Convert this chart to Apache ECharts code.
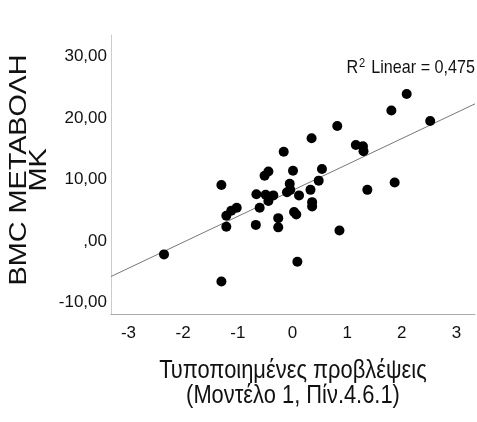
<!DOCTYPE html>
<html><head><meta charset="utf-8">
<script src="https://cdn.jsdelivr.net/npm/echarts@6/dist/echarts.min.js"></script>
<style>html,body{margin:0;padding:0;background:#fff}#c{width:477px;height:422px}</style>
</head><body><div id="c"></div>
<script>
// Standardized predictions (x) and BMC change (y)
const predX = [-2.35,-1.30,-1.30,-1.21,-1.21,-1.12,-1.02,-0.66,-0.67,-0.60,-0.51,-0.44,-0.49,-0.44,-0.35,-0.26,-0.26,-0.16,-0.10,-0.05,0.01,-0.04,0.03,0.07,0.12,0.09,0.33,0.35,0.36,0.36,0.48,0.54,0.82,0.86,1.16,1.29,1.30,1.37,1.81,1.87,2.09,2.52];
const bmcY  = [-2.2,-6.6,9.1,4.1,2.3,4.9,5.4,7.6,2.6,5.4,10.6,11.3,7.5,6.5,7.4,3.7,2.2,14.5,7.9,9.3,11.4,8.3,4.7,4.3,7.4,-3.4,8.3,16.7,5.6,6.3,9.8,11.7,18.7,1.7,15.6,15.4,14.6,8.3,21.2,9.5,23.9,19.5];
const fitX = [-3.32, 3.34];
const fitY = [-5.8, 22.3];
const xTicks = [-3,-2,-1,0,1,2,3];
const yTicks = [-10,0,10,20,30];
const r2Text = '0,475';

const font = "'Liberation Sans', Arial, sans-serif";
const chart = echarts.init(document.getElementById('c'), null, {renderer:'canvas'});
const pts = predX.map((x,i)=>[x,bmcY[i]]);
chart.setOption({
  animation:false,
  grid:{left:111,right:2,top:35,bottom:108,containLabel:false},
  xAxis:{type:'value',min:-3.32,max:3.34,
    axisLine:{show:true,onZero:false,lineStyle:{color:'#aaa',width:1}},
    axisTick:{show:false},splitLine:{show:false},
    axisLabel:{customValues:xTicks,color:'#111',fontSize:17,fontFamily:font,margin:11}},
  yAxis:{type:'value',min:-11.9,max:33.5,
    axisLine:{show:true,onZero:false,lineStyle:{color:'#ccc',width:1}},
    axisTick:{show:false},splitLine:{show:false},
    axisLabel:{customValues:yTicks,color:'#111',fontSize:17,fontFamily:font,margin:4,
      formatter:v=>{ if(v===0) return ',00'; return v.toFixed(2).replace('.',','); }}},
  series:[
    {type:'line',data:fitX.map((x,i)=>[x,fitY[i]]),symbol:'none',lineStyle:{color:'#777',width:1},z:1},
    {type:'scatter',data:pts,symbolSize:10,itemStyle:{color:'#000',opacity:1},z:2}
  ],
  graphic:[
    {type:'text',x:475,y:68,scaleX:0.85,style:{text:'{r|R}{s|2}{r| Linear = '+r2Text+'}',align:'right',verticalAlign:'middle',
      rich:{r:{fontSize:19,fontFamily:font,fill:'#111'},s:{fontSize:13,fontFamily:font,fill:'#111',verticalAlign:'top',padding:[0,2,9,1]}}}},
    {type:'text',x:29,y:170,rotation:Math.PI/2,scaleX:1.2,style:{text:'BMC ΜΕΤΑΒΟΛΗ\nΜΚ',align:'center',verticalAlign:'middle',fontSize:24,lineHeight:20,fontFamily:font,fill:'#111'}},
    {type:'text',x:293,y:384,scaleX:0.875,style:{text:'Τυποποιημένες προβλέψεις\n(Μοντέλο 1, Πίν.4.6.1)',align:'center',verticalAlign:'middle',fontSize:25,lineHeight:25,fontFamily:font,fill:'#111'}}
  ]
});
</script></body></html>
